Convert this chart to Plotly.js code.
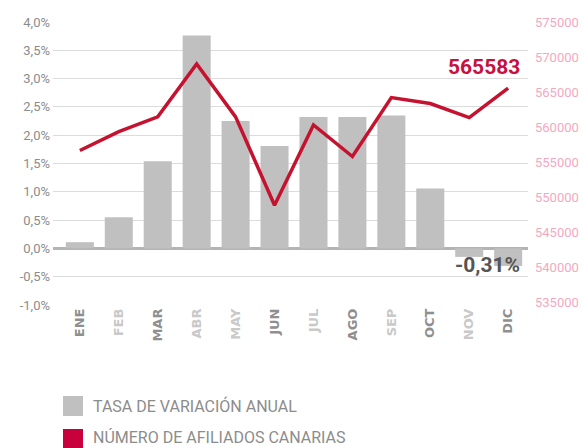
<!DOCTYPE html>
<html>
<head>
<meta charset="utf-8">
<script src="https://cdn.plot.ly/plotly-3.0.1.min.js"></script>
<style>html,body{margin:0;padding:0;background:#fff;}#chart{width:583px;height:448px;}</style>
</head>
<body>
<div id="chart"></div>
<script>
// ---- data ----
const months = ["ENE","FEB","MAR","ABR","MAY","JUN","JUL","AGO","SEP","OCT","NOV","DIC"];
const tasaVariacion = [0.11, 0.55, 1.54, 3.76, 2.25, 1.81, 2.32, 2.32, 2.35, 1.06, -0.15, -0.31];
const afiliados = [556700, 559400, 561500, 569050, 561500, 548900, 560350, 555850, 564250, 563400, 561400, 565583];
const monthShade = ["dark","light","dark","light","light","dark","light","dark","light","dark","light","dark"];
const leftTickVals = [-1, -0.5, 0, 0.5, 1, 1.5, 2, 2.5, 3, 3.5, 4];
const rightTickVals = [535000, 540000, 545000, 550000, 555000, 560000, 565000, 570000, 575000];
const legendNames = ["TASA DE VARIACIÓN ANUAL", "NÚMERO DE AFILIADOS CANARIAS"];

// ---- helpers ----
const fmtPct = v => (v < 0 ? "-" : "") + Math.abs(v).toFixed(1).replace(".", ",") + "%";
const leftTickText = leftTickVals.map(fmtPct);
const tickText = months.map((m, i) =>
  '<span style="color:' + (monthShade[i] === "dark" ? "#8f8f8f" : "#c9c9c9") + '">' + m + '</span>');

const grey = "#c0c0c0";
const red = "#c4122f";

const ML = 53, MR = 55, MT = 22, MB = 143, W = 583, H = 448;
const PW = W - ML - MR, PH = H - MT - MB;
const px = x => (x - ML) / PW;
const py = y => (H - MB - y) / PH;

const lastIdx = months.length - 1;
const lastBar = tasaVariacion[lastIdx];
const lastLine = afiliados[lastIdx];

const traces = [
  {
    type: "bar", x: months, y: tasaVariacion, name: legendNames[0],
    marker: {color: grey}, width: 0.72, yaxis: "y", hoverinfo: "none"
  },
  {
    type: "scatter", mode: "lines", x: months, y: afiliados, name: legendNames[1],
    line: {color: red, width: 3.5}, yaxis: "y2", hoverinfo: "none"
  }
];

const layout = {
  width: W, height: H,
  margin: {l: ML, r: MR, t: MT, b: MB},
  paper_bgcolor: "#fff", plot_bgcolor: "#fff",
  showlegend: false,
  separators: ",.",
  font: {family: "Roboto, 'DejaVu Sans', sans-serif", color: "#8c8c8c"},
  xaxis: {
    type: "category", categoryarray: months, range: [-0.69, 11.51],
    tickvals: months, ticktext: tickText, tickangle: -90,
    tickfont: {family: "'DejaVu Sans', sans-serif", size: 13, weight: "bold"},
    showgrid: false, zeroline: false, showline: false, ticks: "", fixedrange: true
  },
  yaxis: {
    range: [-1, 4], tickvals: leftTickVals, ticktext: leftTickText,
    tickfont: {size: 13, color: "#8c8c8c"},
    showgrid: true, gridcolor: "#dcdcdc", gridwidth: 1,
    zeroline: true, zerolinecolor: "#b4b4b4", zerolinewidth: 3,
    showline: false, ticks: "", ticklabelstandoff: 2
  },
  yaxis2: {
    overlaying: "y", side: "right", range: [534700, 575010],
    tickvals: rightTickVals, ticktext: rightTickVals.map(String),
    tickfont: {size: 13, color: "#f3a9bf"},
    showgrid: false, zeroline: false, showline: false, ticks: "", ticklabelstandoff: 6
  },
  annotations: [
    {
      xref: "x", yref: "y2", x: lastIdx, y: lastLine,
      text: "<b>" + String(lastLine) + "</b>", showarrow: false,
      xanchor: "right", yanchor: "middle", xshift: 14, yshift: 21,
      font: {family: "Roboto, sans-serif", size: 21, color: "#c8103e"}
    },
    {
      xref: "x", yref: "y", x: lastIdx, y: lastBar,
      text: "<b>" + lastBar.toFixed(2).replace(".", ",") + "%</b>", showarrow: false,
      xanchor: "right", yanchor: "middle", xshift: 14, yshift: 1,
      font: {family: "Roboto, sans-serif", size: 21, color: "#555555"}
    },
    {
      xref: "paper", yref: "paper", x: px(91), y: py(406),
      text: legendNames[0], showarrow: false, xanchor: "left", yanchor: "middle",
      font: {family: "Roboto, sans-serif", size: 16, color: "#8c8c8c"}
    },
    {
      xref: "paper", yref: "paper", x: px(91), y: py(437),
      text: legendNames[1], showarrow: false, xanchor: "left", yanchor: "middle",
      font: {family: "Roboto, sans-serif", size: 16, color: "#8c8c8c"}
    }
  ],
  shapes: [
    {type: "rect", xref: "paper", yref: "paper", x0: px(63), x1: px(83), y0: py(396), y1: py(416),
     fillcolor: grey, line: {width: 0}},
    {type: "rect", xref: "paper", yref: "paper", x0: px(63), x1: px(83), y0: py(429), y1: py(449),
     fillcolor: "#c8003c", line: {width: 0}}
  ]
};

Plotly.newPlot("chart", traces, layout, {staticPlot: true, displayModeBar: false});
</script>
</body>
</html>
